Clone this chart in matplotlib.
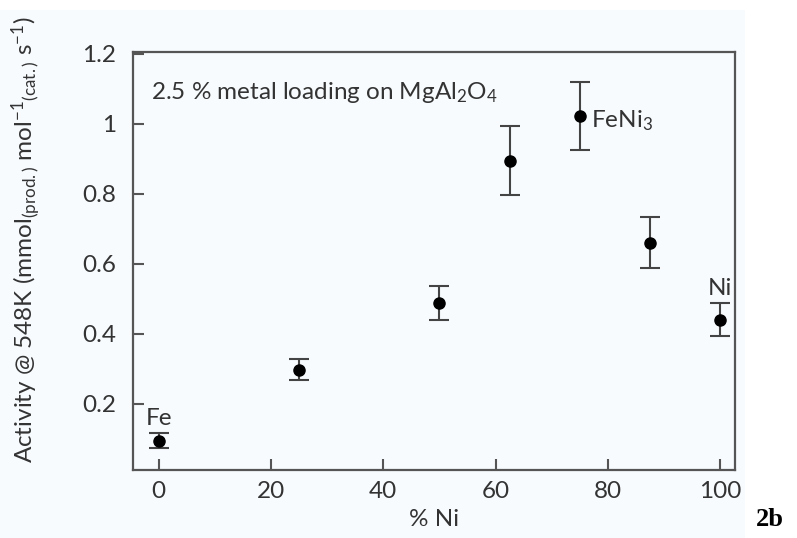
import matplotlib
matplotlib.use("Agg")
import matplotlib.pyplot as plt
from matplotlib.patches import Rectangle

ni_percent = [0, 25, 50, 62.5, 75, 87.5, 100]
activity = [0.094, 0.297, 0.488, 0.894, 1.023, 0.660, 0.440]
err = [0.021, 0.031, 0.048, 0.099, 0.097, 0.073, 0.048]
xticks = [0, 20, 40, 60, 80, 100]
yticks = [0.2, 0.4, 0.6, 0.8, 1.0, 1.2]
yticklabels = ["0.2", "0.4", "0.6", "0.8", "1", "1.2"]
point_labels = [("Fe", 0, 0.157), ("FeNi$_3$", 77.0, 1.01), ("Ni", 100, 0.53)]

plt.rcParams['font.family'] = ['Lato', 'DejaVu Sans']
plt.rcParams['mathtext.fontset'] = 'custom'
plt.rcParams['mathtext.rm'] = 'Lato'
plt.rcParams['mathtext.it'] = 'Lato'

FS = 17.5

fig = plt.figure(figsize=(7.97, 5.38), dpi=100, facecolor='white')
fig.patches.append(Rectangle((0, 0), 745/797, 528/538, transform=fig.transFigure,
                             facecolor='#f7fbfe', edgecolor='none', zorder=-10))
ax = fig.add_axes([133/797, (538-470)/538, (735-133)/797, (470-52)/538])
ax.set_facecolor('#f7fbfe')

ax.errorbar(ni_percent, activity, yerr=err, fmt='o', color='black', markersize=8,
            ecolor='#444444', elinewidth=1.5, capsize=7, capthick=1.5, zorder=3)

ax.set_xlim(-4.55, 102.6)
ax.set_ylim(0.01, 1.205)
ax.set_xticks(xticks)
ax.set_yticks(yticks)
ax.set_yticklabels(yticklabels)
ax.tick_params(direction='in', length=8, width=1.5, color='#555555',
               labelsize=FS, labelcolor='#333333', pad=8)
ax.tick_params(axis='y', pad=12)
for s in ax.spines.values():
    s.set_color('#555555')
    s.set_linewidth(1.6)

txtc = '#333333'
for lab, x, y in point_labels:
    ha = 'left' if lab.startswith('FeNi') else 'center'
    ax.text(x, y, lab, ha=ha, va='center', fontsize=FS, color=txtc)

ax.text(0.03, 0.904, "2.5 % metal loading on MgAl$_2$O$_4$", transform=ax.transAxes,
        ha='left', va='center', fontsize=FS, color=txtc)

ax.set_xlabel("% Ni", fontsize=FS, color=txtc, labelpad=5)
ax.set_ylabel("Activity @ 548K (mmol$_{\\mathrm{(prod.)}}$ mol$^{-1}$$_{\\mathrm{(cat.)}}$ s$^{-1}$)",
              fontsize=FS, color=txtc)
ax.yaxis.set_label_coords(-0.15, 0.55)

fig.text(770/797, 1 - 520/538, "2b", fontsize=19, fontweight='bold',
         family='Liberation Serif', ha='center', va='center', color='black')

fig.savefig("out.png", dpi=100, facecolor='white')
